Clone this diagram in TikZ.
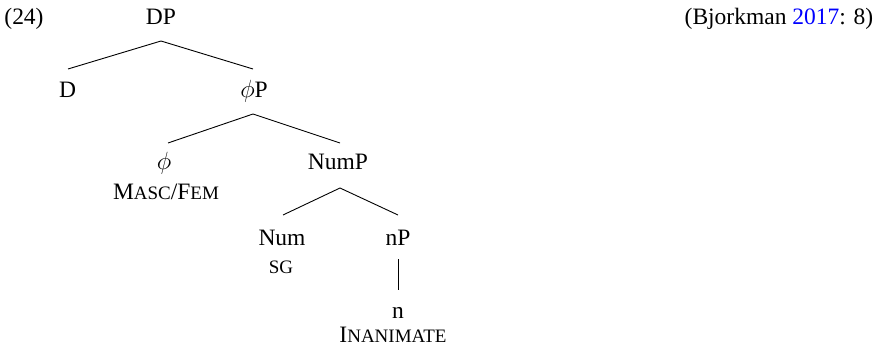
\documentclass[tikz,border=0pt]{standalone}
\usepackage{fontspec}
\setmainfont{Liberation Serif}
\newcommand{\fsc}[1]{{\fontsize{19}{22}\selectfont #1}}
\begin{document}
\begin{tikzpicture}[x=1pt,y=-1pt,
  lab/.style={anchor=base,inner sep=0pt,font=\fontsize{23.5}{28}\selectfont},
  edge/.style={line width=0.9pt}]
\useasboundingbox (0,0) rectangle (881,350);
\node[lab] (ex) at (24,25) {(24)};
\node[lab] (cite) at (779,25) {(Bjorkman \textcolor[RGB]{0,0,255}{2017}: 8)};
\node[lab] (DP) at (161,25) {DP};
\node[lab] (D) at (67.5,98) {D};
\node[lab] (phiP) at (254,98) {$\phi$P};
\node[lab] (phi) at (164,170) {$\phi$};
\node[lab] (mf) at (166,199) {M\fsc{ASC}/F\fsc{EM}};
\node[lab] (NumP) at (338,170) {NumP};
\node[lab] (Num) at (282,245) {Num};
\node[lab] (sg) at (281,273) {\fsc{SG}};
\node[lab] (nP) at (398,245) {nP};
\node[lab] (n) at (398,318) {n};
\node[lab] (inan) at (393,342) {I\fsc{NANIMATE}};
\draw[edge] ([yshift=-16pt]DP.base) -- ([xshift=0.5pt,yshift=29pt]D.base);
\draw[edge] ([yshift=-16pt]DP.base) -- ([xshift=-1pt,yshift=29pt]phiP.base);
\draw[edge] ([xshift=-1pt,yshift=-16pt]phiP.base) -- ([xshift=4pt,yshift=27pt]phi.base);
\draw[edge] ([xshift=-1pt,yshift=-16pt]phiP.base) -- ([xshift=2pt,yshift=27pt]NumP.base);
\draw[edge] ([xshift=2pt,yshift=-18pt]NumP.base) -- ([xshift=1pt,yshift=30pt]Num.base);
\draw[edge] ([xshift=2pt,yshift=-18pt]NumP.base) -- ([yshift=30pt]nP.base);
\draw[edge] ([yshift=-14pt]nP.base) -- ([yshift=28pt]n.base);
\end{tikzpicture}
\end{document}
